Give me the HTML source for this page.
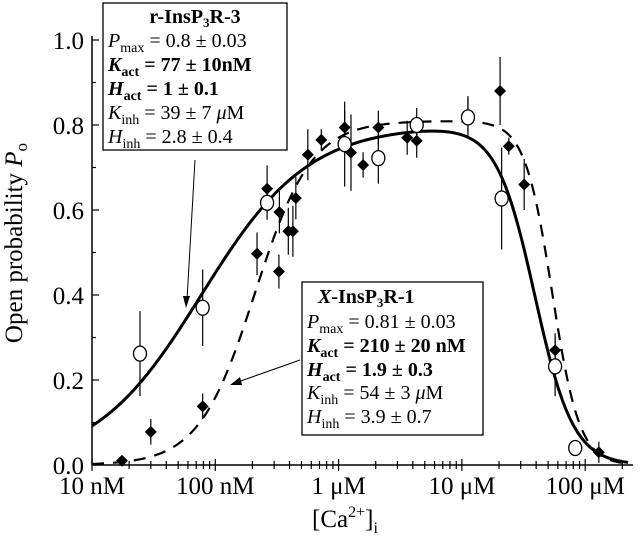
<!DOCTYPE html>
<html><head><meta charset="utf-8"><style>
html,body{margin:0;padding:0;background:#fff;}
svg{display:block;}
svg text, svg tspan{font-family:"Liberation Serif","Times New Roman",serif;}
</style></head><body>
<svg id="chart" width="640" height="545" viewBox="0 0 640 545" xmlns="http://www.w3.org/2000/svg" font-family="'Liberation Serif', serif">
<g id="axes"></g>
<g id="curves"></g>
<g id="marks"></g>
<g id="annot">
  <rect x="103" y="3" width="184" height="147" fill="#fff" stroke="#000" stroke-width="1.3"/>
  <g font-size="20">
    <text x="195" y="23" text-anchor="middle" font-weight="bold">r-InsP<tspan font-size="13" dy="4">3</tspan><tspan dy="-4">R-3</tspan></text>
    <text x="108" y="47"><tspan font-style="italic">P</tspan><tspan font-size="14" dy="5">max</tspan><tspan dy="-5"> = 0.8 ± 0.03</tspan></text>
    <text x="108" y="71" font-weight="bold"><tspan font-style="italic">K</tspan><tspan font-size="14" dy="5">act</tspan><tspan dy="-5">  = 77 ± 10nM</tspan></text>
    <text x="108" y="95" font-weight="bold"><tspan font-style="italic">H</tspan><tspan font-size="14" dy="5">act</tspan><tspan dy="-5">  = 1 ± 0.1</tspan></text>
    <text x="108" y="119"><tspan font-style="italic">K</tspan><tspan font-size="14" dy="5">inh</tspan><tspan dy="-5">  = 39 ± 7 </tspan><tspan font-style="italic">μ</tspan>M</text>
    <text x="108" y="143"><tspan font-style="italic">H</tspan><tspan font-size="14" dy="5">inh</tspan><tspan dy="-5">  = 2.8 ± 0.4</tspan></text>
  </g>
  <rect x="302" y="282" width="181" height="153" fill="#fff" stroke="#000" stroke-width="1.3"/>
  <g font-size="20">
    <text x="318" y="303" font-weight="bold"><tspan font-style="italic">X</tspan>-InsP<tspan font-size="13" dy="4">3</tspan><tspan dy="-4">R-1</tspan></text>
    <text x="307" y="328"><tspan font-style="italic">P</tspan><tspan font-size="14" dy="5">max</tspan><tspan dy="-5"> = 0.81 ± 0.03</tspan></text>
    <text x="307" y="352" font-weight="bold"><tspan font-style="italic">K</tspan><tspan font-size="14" dy="5">act</tspan><tspan dy="-5">  = 210 ± 20 nM</tspan></text>
    <text x="307" y="376" font-weight="bold"><tspan font-style="italic">H</tspan><tspan font-size="14" dy="5">act</tspan><tspan dy="-5">  = 1.9 ± 0.3</tspan></text>
    <text x="307" y="399"><tspan font-style="italic">K</tspan><tspan font-size="14" dy="5">inh</tspan><tspan dy="-5"> = 54  ± 3 </tspan><tspan font-style="italic">μ</tspan>M</text>
    <text x="307" y="423"><tspan font-style="italic">H</tspan><tspan font-size="14" dy="5">inh</tspan><tspan dy="-5"> = 3.9 ± 0.7</tspan></text>
  </g>
  <line x1="195" y1="160" x2="187" y2="300" stroke="#000" stroke-width="1"/>
  <polygon points="186,308 183,296 190,296" fill="#000"/>
  <line x1="300" y1="360" x2="238" y2="382" stroke="#000" stroke-width="1"/>
  <polygon points="230,385 240,377 242,385" fill="#000"/>
</g>
<text transform="translate(22,243) rotate(-90)" text-anchor="middle" font-size="25">Open probability <tspan font-style="italic">P</tspan><tspan font-size="17" dy="5">o</tspan></text>
<text x="345" y="527" text-anchor="middle" font-size="25">[Ca<tspan font-size="16" dy="-10">2+</tspan><tspan dy="10">]</tspan><tspan font-size="16" dy="6">i</tspan></text>
</svg>
<script>
// Data
const xTickValues = [1e-8, 1e-7, 1e-6, 1e-5, 1e-4];
const xTickLabels = ["10 nM", "100 nM", "1 μM", "10 μM", "100 μM"];
const yTickValues = [0, 0.2, 0.4, 0.6, 0.8, 1.0];
const yTickLabels = ["0.0", "0.2", "0.4", "0.6", "0.8", "1.0"];
// X-InsP3R-1 (filled diamonds): concentration (M), Po, error
const xConc = [17.5e-9, 30e-9, 79e-9, 218e-9, 263e-9, 331e-9, 328e-9, 391e-9, 426e-9, 450e-9, 563e-9, 724e-9, 1.12e-6, 1.26e-6, 1.58e-6, 2.1e-6, 3.6e-6, 4.3e-6, 11.2e-6, 20.4e-6, 24e-6, 32e-6, 57e-6, 129e-6];
const xPo = [0.01, 0.078, 0.138, 0.497, 0.65, 0.595, 0.455, 0.55, 0.55, 0.628, 0.73, 0.765, 0.794, 0.735, 0.706, 0.794, 0.77, 0.763, 0.824, 0.88, 0.75, 0.66, 0.27, 0.03];
const xErr = [0.005, 0.03, 0.03, 0.05, 0.055, 0.05, 0.04, 0.055, 0.06, 0.05, 0.06, 0.025, 0.04, 0.09, 0.03, 0.04, 0.04, 0.04, 0.04, 0.08, 0.02, 0.06, 0.04, 0.025];
// r-InsP3R-3 (open circles)
const rConc = [24.5e-9, 79e-9, 263e-9, 1.12e-6, 2.1e-6, 4.3e-6, 11.2e-6, 21e-6, 57e-6, 83e-6];
const rPo = [0.262, 0.37, 0.617, 0.755, 0.722, 0.8, 0.818, 0.627, 0.232, 0.04];
const rErr = [0.1, 0.09, 0.04, 0.1, 0.06, 0.04, 0.05, 0.12, 0.07, 0.01];
// Fit parameters [Pmax, Kact, Hact, Kinh, Hinh]
const rFit = [0.8, 77e-9, 1, 39e-6, 2.8];
const xFit = [0.81, 210e-9, 1.9, 54e-6, 3.9];

const NS = "http://www.w3.org/2000/svg";
const X0 = 92, DEC = 123.3, Y0 = 465, YS = 425;
const sx = c => X0 + (Math.log10(c) + 8) * DEC;
const sy = p => Y0 - p * YS;
function mk(tag, attrs, parent) {
  const e = document.createElementNS(NS, tag);
  for (const k in attrs) e.setAttribute(k, attrs[k]);
  parent.appendChild(e);
  return e;
}
const axes = document.getElementById('axes');
let el = mk('line', {x1: X0, y1: Y0, x2: 633, y2: Y0, stroke: '#000', 'stroke-width': 1.5}, axes);


el = mk('line', {x1: X0, y1: Y0, x2: X0, y2: 36, stroke: '#000', 'stroke-width': 1.5}, axes);


for (let d = -8; d <= -4; d++) {
  for (let m = 1; m <= 9; m++) {
    const c = m * Math.pow(10, d);
    const x = sx(c);
    if (x > 633) continue;
    const major = m === 1;
    el = mk('line', {x1: x, y1: Y0 - (major ? 6 : 4), x2: x, y2: Y0 + (major ? 6 : 4), stroke: '#000', 'stroke-width': 1.2}, axes);
    
    
  }
}
xTickValues.forEach((v, i) => {
  const t = mk('text', {x: sx(v), y: 494, 'text-anchor': 'middle', 'font-size': 25, 'font-family': "'Liberation Serif', serif"}, axes);
  t.textContent = xTickLabels[i];
  
  
});
for (let k = 0; k <= 10; k++) {
  const y = sy(k / 10);
  const major = k % 2 === 0;
  el = mk('line', {x1: X0, y1: y, x2: X0 + (major ? 7 : 4), y2: y, stroke: '#000', 'stroke-width': 1.2}, axes);
  
  
}
yTickValues.forEach((v, i) => {
  const t = mk('text', {x: 84, y: sy(v) + 9, 'text-anchor': 'end', 'font-size': 25, 'font-family': "'Liberation Serif', serif"}, axes);
  t.textContent = yTickLabels[i];
  
  
});
function model(p, c) {
  return p[0] / (1 + Math.pow(p[1] / c, p[2])) / (1 + Math.pow(c / p[3], p[4]));
}
function curvePath(p) {
  let d = '';
  for (let x = X0; x <= 628; x += 2) {
    const c = Math.pow(10, (x - X0) / DEC - 8);
    d += (d ? 'L' : 'M') + x.toFixed(1) + ',' + sy(model(p, c)).toFixed(1);
  }
  return d;
}
const curves = document.getElementById('curves');
el = mk('path', {d: curvePath(rFit), fill: 'none', stroke: '#000', 'stroke-width': 3}, curves);


el = mk('path', {d: curvePath(xFit), fill: 'none', stroke: '#000', 'stroke-width': 2.2, 'stroke-dasharray': '12,9'}, curves);


const marks = document.getElementById('marks');
xConc.forEach((c, i) => {
  const x = sx(c), y = sy(xPo[i]);
  const e1 = mk('line', {x1: x, y1: sy(xPo[i] + xErr[i]), x2: x, y2: sy(xPo[i] - xErr[i]), stroke: '#000', 'stroke-width': 1.2}, marks);
  
  
  const e2 = mk('polygon', {points: `${x},${y-6} ${x+6},${y} ${x},${y+6} ${x-6},${y}`, fill: '#000'}, marks);
  
  
});
rConc.forEach((c, i) => {
  const x = sx(c), y = sy(rPo[i]);
  const e1 = mk('line', {x1: x, y1: sy(rPo[i] + rErr[i]), x2: x, y2: sy(rPo[i] - rErr[i]), stroke: '#000', 'stroke-width': 1.2}, marks);
  
  
  const e2 = mk('ellipse', {cx: x, cy: y, rx: 6.5, ry: 7.5, fill: '#fff', stroke: '#000', 'stroke-width': 1.3}, marks);
  
  
});
</script>
</body></html>
